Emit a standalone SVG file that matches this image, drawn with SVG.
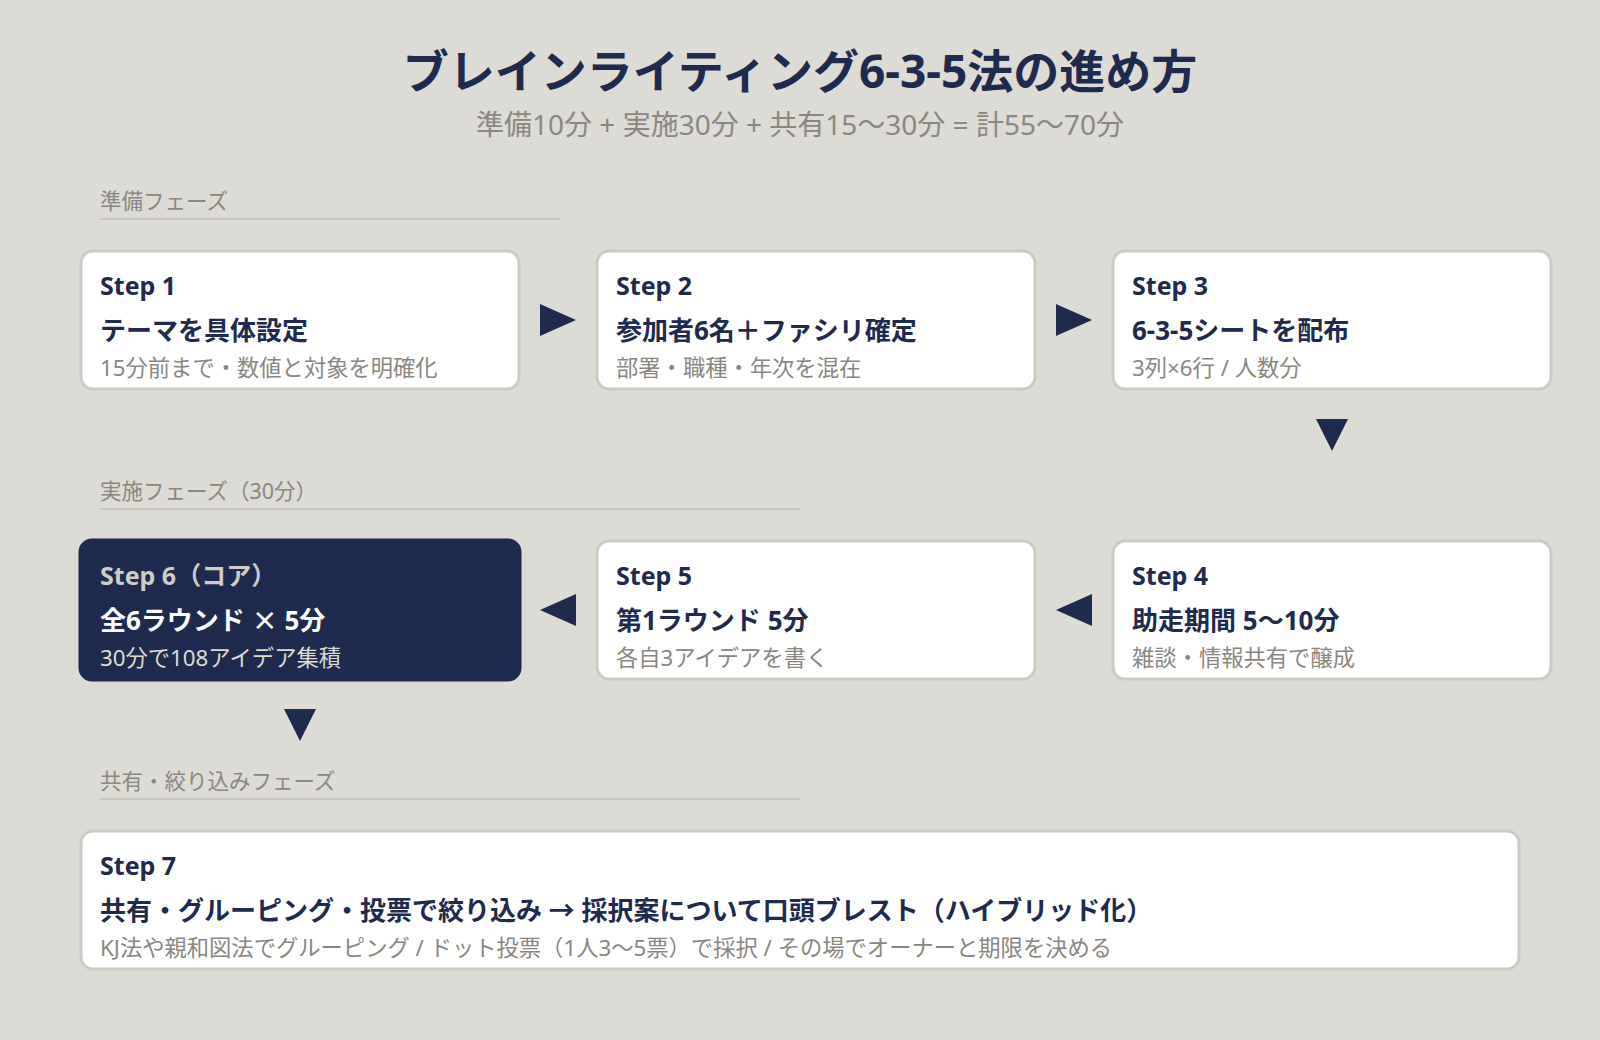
<svg xmlns="http://www.w3.org/2000/svg" width="1600" height="1040" viewBox="0 0 1600 1040">
<style>
text { font-family: "Noto Sans", "Noto Sans CJK JP", sans-serif; }
.cjk { font-family: "Noto Sans CJK JP", sans-serif; }
.title { font-size: 46px; font-weight: 700; fill: #1e2a4e; }
.subtitle { font-size: 28px; fill: #8a8780; }
.phase { font-size: 21.5px; fill: #8a8780; }
.rule { stroke: #c9c7c0; stroke-width: 2; }
.box { fill: #ffffff; stroke: #cdcbc3; stroke-width: 3; }
.box-core { fill: #1e2a4e; stroke: #1e2a4e; stroke-width: 3; }
.step { font-size: 25px; font-weight: 700; fill: #1e2a4e; }
.head { font-size: 26px; font-weight: 700; fill: #1e2a4e; }
.sub { font-size: 22.3px; fill: #8a8780; }
.step-core { font-size: 25px; font-weight: 700; fill: #cfcdc7; }
.head-core { font-size: 26px; font-weight: 700; fill: #ffffff; }
.sub-core { font-size: 22.3px; fill: #dddbd5; }
.arrow { fill: #1e2a4e; }
</style>
<rect x="0" y="0" width="1600" height="1040" fill="#dddbd6"/>

<g id="header">
<text class="title" x="800" y="88" text-anchor="middle">ブレインライティング6-3-5法の進め方</text>
<text class="subtitle" x="800" y="135" text-anchor="middle">準備10分 + 実施30分 + 共有15〜30分 = 計55〜70分</text>
</g>

<g id="phase-prep">
<text class="phase" x="100" y="209">準備フェーズ</text>
<line class="rule" x1="100" y1="219" x2="560" y2="219"/>
</g>
<g id="phase-exec">
<text class="phase" x="100" y="499">実施フェーズ（30分）</text>
<line class="rule" x1="100" y1="509" x2="800" y2="509"/>
</g>
<g id="phase-share">
<text class="phase" x="100" y="789">共有・絞り込みフェーズ</text>
<line class="rule" x1="100" y1="799" x2="800" y2="799"/>
</g>

<g id="step1">
<rect class="box" x="81" y="251" width="438" height="138" rx="12"/>
<text class="step" x="100" y="295">Step 1</text>
<text class="head" x="100" y="340">テーマを具体設定</text>
<text class="sub" x="100" y="376">15分前まで・数値と対象を明確化</text>
</g>
<g id="step2">
<rect class="box" x="597" y="251" width="438" height="138" rx="12"/>
<text class="step" x="616" y="295">Step 2</text>
<text class="head" x="616" y="340">参加者6名＋ファシリ確定</text>
<text class="sub" x="616" y="376">部署・職種・年次を混在</text>
</g>
<g id="step3">
<rect class="box" x="1113" y="251" width="438" height="138" rx="12"/>
<text class="step" x="1132" y="295">Step 3</text>
<text class="head" x="1132" y="340">6-3-5シートを配布</text>
<text class="sub" x="1132" y="376">3列×6行 / 人数分</text>
</g>
<g id="step4">
<rect class="box" x="1113" y="541" width="438" height="138" rx="12"/>
<text class="step" x="1132" y="585">Step 4</text>
<text class="head" x="1132" y="630">助走期間 5〜10分</text>
<text class="sub" x="1132" y="666">雑談・情報共有で醸成</text>
</g>
<g id="step5">
<rect class="box" x="597" y="541" width="438" height="138" rx="12"/>
<text class="step" x="616" y="585">Step 5</text>
<text class="head" x="616" y="630">第1ラウンド 5分</text>
<text class="sub" x="616" y="666">各自3アイデアを書く</text>
</g>
<g id="step6">
<rect class="box-core" x="80" y="540" width="440" height="140" rx="12"/>
<text class="step-core" x="100" y="585">Step 6（コア）</text>
<text class="head-core" x="100" y="630">全6ラウンド <tspan class="cjk">×</tspan> 5分</text>
<text class="sub-core" x="100" y="666">30分で108アイデア集積</text>
</g>
<g id="step7">
<rect class="box" x="81" y="831" width="1438" height="138" rx="12"/>
<text class="step" x="100" y="875">Step 7</text>
<text class="head" x="100" y="920">共有・グルーピング・投票で絞り込み → 採択案について口頭ブレスト（ハイブリッド化）</text>
<text class="sub" x="100" y="956">KJ法や親和図法でグルーピング / ドット投票（1人3〜5票）で採択 / その場でオーナーと期限を決める</text>
</g>

<g id="connectors">
<polygon class="arrow" points="540,304 576,320 540,336"/>
<polygon class="arrow" points="1056,304 1092,320 1056,336"/>
<polygon class="arrow" points="1316,419 1348,419 1332,451"/>
<polygon class="arrow" points="1092,594 1056,610 1092,626"/>
<polygon class="arrow" points="576,594 540,610 576,626"/>
<polygon class="arrow" points="284,709 316,709 300,741"/>
</g>
</svg>
